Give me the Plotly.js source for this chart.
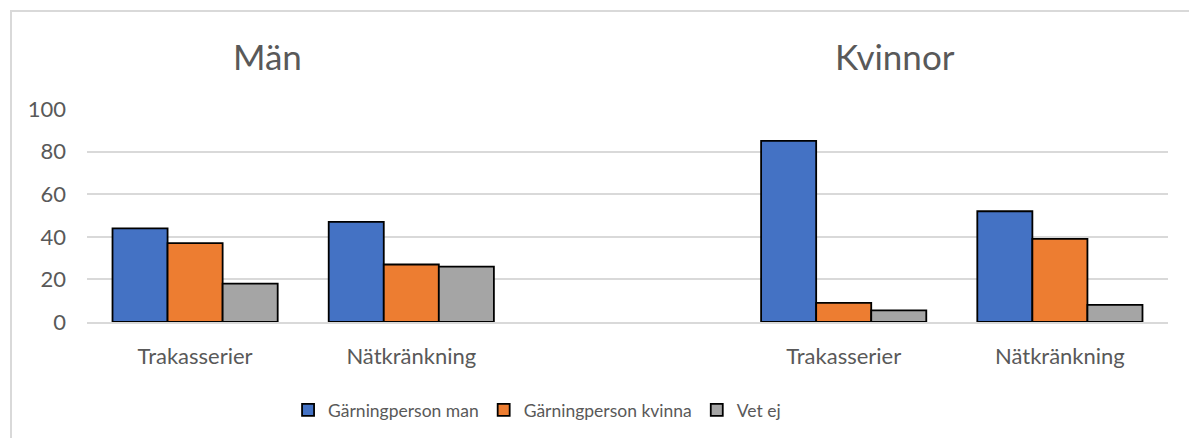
<!DOCTYPE html>
<html>
<head>
<meta charset="utf-8">
<script src="https://cdn.plot.ly/plotly-3.0.1.min.js"></script>
<style>
  body { margin: 0; background: #fff; }
  #chart { position: absolute; left: 0; top: 0; width: 1189px; height: 438px; }
  #frame {
    position: absolute; left: 10px; top: 10px; width: 1300px; height: 600px;
    border-left: 2px solid #d9d9d9; border-top: 2px solid #d9d9d9;
    pointer-events: none;
  }
</style>
</head>
<body>
<div id="chart"></div>
<div id="frame"></div>
<script>
// Category slots: 0,1 = Män, 2 = empty gap, 3,4 = Kvinnor
const slotPositions = [0, 1, 3, 4];
const categoryLabels = ["Trakasserier", "Nätkränkning", "Trakasserier", "Nätkränkning"];

const seriesNames = ["Gärningperson man", "Gärningperson kvinna", "Vet ej"];
const perpetratorMan = [44, 47, 85, 52];
const perpetratorWoman = [37, 27, 9, 39];
const unknownPerp = [18, 26, 5.5, 8];

const seriesColors = ["#4472C4", "#ED7D31", "#A5A5A5"];
const yTicks = [0, 20, 40, 60, 80, 100];

const textColor = "#595959";
const fontFamily = "Lato, 'Open Sans', sans-serif";

// One bar trace per series
const seriesValues = [perpetratorMan, perpetratorWoman, unknownPerp];
let traces = seriesValues.map((vals, i) => ({
  type: "bar",
  name: seriesNames[i],
  x: slotPositions,
  y: vals,
  marker: {
    color: seriesColors[i],
    line: { color: "#000000", width: 1.8 },
  },
  hoverinfo: "none",
}));

let layout = {
  width: 1189,
  height: 438,
  margin: { l: 87, r: 21, t: 109, b: 115 },
  paper_bgcolor: "rgba(0,0,0,0)",
  plot_bgcolor: "rgba(0,0,0,0)",
  font: { family: fontFamily, color: textColor, size: 20 },
  barmode: "group",
  bargap: 0.236,
  bargroupgap: 0,
  showlegend: true,
  legend: {
    orientation: "h",
    x: 0.186,
    xanchor: "left",
    y: -0.4065,
    yanchor: "middle",
    font: { family: fontFamily, color: textColor, size: 17.5 },
    traceorder: "normal",
  },
  xaxis: {
    range: [-0.5, 4.5],
    tickvals: slotPositions,
    ticktext: categoryLabels,
    showgrid: false,
    zeroline: false,
    showline: true,
    linecolor: "#d9d9d9",
    linewidth: 2,
    ticks: "",
    ticklabelstandoff: 14,
    tickfont: { family: fontFamily, color: textColor, size: 22 },
    fixedrange: true,
  },
  yaxis: {
    range: [0, 100],
    tickvals: yTicks,
    showgrid: true,
    gridcolor: "#d9d9d9",
    gridwidth: 2,
    zeroline: false,
    showline: false,
    ticks: "",
    ticklabelstandoff: 20,
    tickfont: { family: fontFamily, color: textColor, size: 22 },
    fixedrange: true,
  },
  annotations: [
    {
      text: "Män",
      xref: "paper", yref: "paper",
      x: 0.1674, y: 1.2486,
      xanchor: "center", yanchor: "middle",
      showarrow: false,
      font: { family: fontFamily, color: textColor, size: 35 },
    },
    {
      text: "Kvinnor",
      xref: "paper", yref: "paper",
      x: 0.747, y: 1.2486,
      xanchor: "center", yanchor: "middle",
      showarrow: false,
      font: { family: fontFamily, color: textColor, size: 35 },
    },
  ],
};

Plotly.newPlot("chart", traces, layout, { displayModeBar: false, staticPlot: true });
</script>
</body>
</html>
